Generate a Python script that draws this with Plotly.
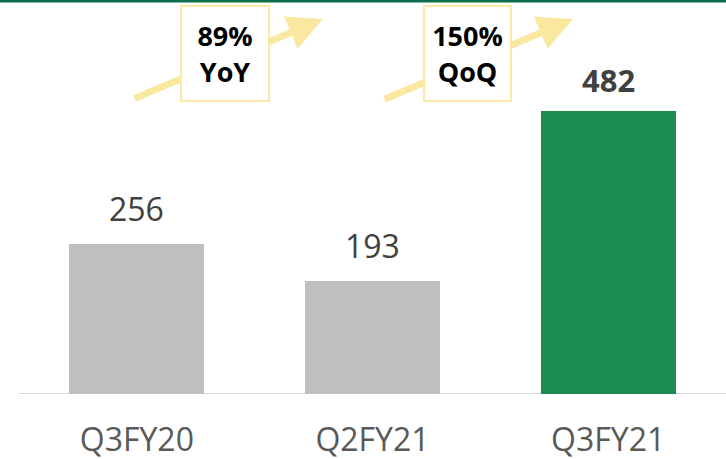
import plotly.graph_objects as go

categories = ["Q3FY20", "Q2FY21", "Q3FY21"]
values = [256, 193, 482]
bar_colors = ["#bfbfbf", "#bfbfbf", "#1b8c50"]
label_bold = [False, False, True]
growth_texts = ["89%<br>YoY", "150%<br>QoQ"]

W, H = 726, 459
L, R, T, B = 19, 0, 0, 65
pw, ph = W - L - R, H - T - B

def px(x):
    return (x - L) / pw

def py(y):
    return 1 - (y - T) / ph

FONT = "Open Sans, Noto Sans, sans-serif"

fig = go.Figure()
fig.add_trace(go.Bar(x=categories, y=values, marker_color=bar_colors,
                     width=0.572, marker_line_width=0, showlegend=False))

annotations = []
for c, v, b in zip(categories, values, label_bold):
    txt = f"<b>{v}</b>" if b else str(v)
    annotations.append(dict(x=c, y=v, xref="x", yref="y", text=txt, showarrow=False,
                            yanchor="bottom", yshift=8 if b else 12,
                            font=dict(family=FONT, size=31 if b else 32, color="#404040")))

# arrows (tail -> head), pixel coordinates
arrows = [((133, 99), (323, 19)), ((383, 100), (573, 19))]
for (tx, ty), (hx, hy) in arrows:
    annotations.append(dict(x=px(hx), y=py(hy), ax=tx - hx, ay=ty - hy,
                            xref="paper", yref="paper", axref="pixel", ayref="pixel",
                            text="", showarrow=True, arrowhead=2, arrowsize=1.0,
                            arrowwidth=7, arrowcolor="#fbe8a0"))

boxes = [(180, 270), (423, 512)]
for (x0, x1), t in zip(boxes, growth_texts):
    annotations.append(dict(x=px((x0 + x1) / 2), y=py(53.5), xref="paper", yref="paper",
                            text=f"<b>{t}</b>", showarrow=False, width=x1 - x0 - 4, height=93,
                            bgcolor="white", bordercolor="#fde9a6", borderwidth=2, borderpad=0,
                            xanchor="center", yanchor="middle",
                            font=dict(family=FONT, size=27, color="black")))

shapes = [
    dict(type="line", xref="paper", yref="paper", x0=px(0), x1=1, y0=py(1), y1=py(1),
         line=dict(color="#0e6e4c", width=3)),
    dict(type="line", xref="paper", yref="y", x0=0, x1=1, y0=0, y1=0,
         line=dict(color="#d9d9d9", width=2), layer="below"),
]

fig.update_layout(
    width=W, height=H, margin=dict(l=L, r=R, t=T, b=B, autoexpand=False),
    paper_bgcolor="white", plot_bgcolor="white",
    annotations=annotations, shapes=shapes, bargap=0,
    xaxis=dict(showgrid=False, zeroline=False, showline=False, ticks="",
               tickfont=dict(family=FONT, size=32, color="#595959"), automargin=False,
               ticklabelstandoff=24, range=[-0.5, 2.5], fixedrange=True),
    yaxis=dict(visible=False, range=[0, ph / 0.587], fixedrange=True, automargin=False),
)

fig.write_html("out.html", config={"displayModeBar": False},
               post_script="document.body.style.margin='0';")
